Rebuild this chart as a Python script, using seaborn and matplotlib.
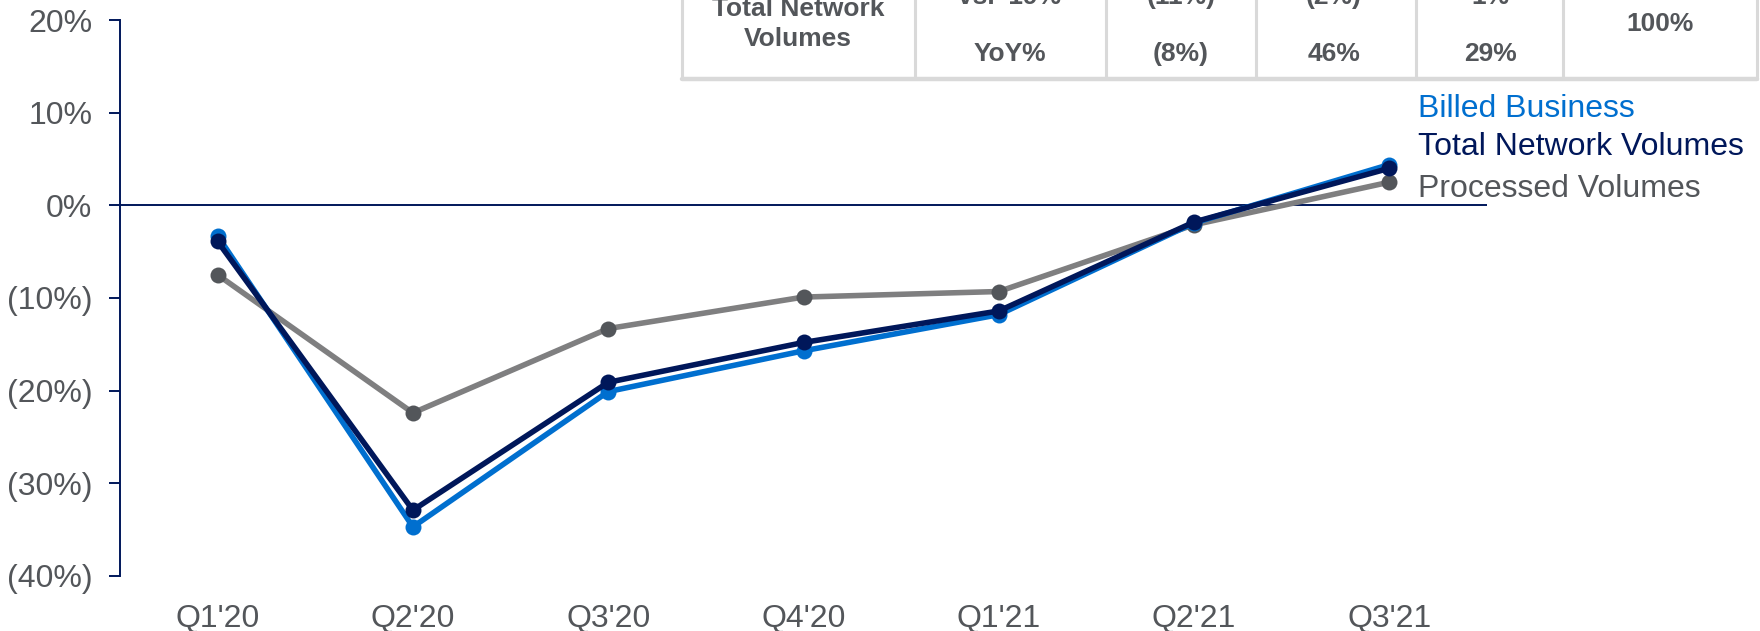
import matplotlib
matplotlib.use("Agg")
import matplotlib.pyplot as plt
from matplotlib.lines import Line2D
import seaborn as sns
import pandas as pd

# data
quarters = ["Q1'20", "Q2'20", "Q3'20", "Q4'20", "Q1'21", "Q2'21", "Q3'21"]
billed_business = [-3.3, -34.7, -20.1, -15.7, -11.8, -1.9, 4.4]
total_network = [-3.9, -32.9, -19.1, -14.8, -11.4, -1.8, 4.0]
processed_volumes = [-7.5, -22.4, -13.3, -9.9, -9.3, -2.1, 2.5]
y_ticks = [-40, -30, -20, -10, 0, 10, 20]
y_labels = ["(40%)", "(30%)", "(20%)", "(10%)", "0%", "10%", "20%"]

table_title = "Total Network\nVolumes"
table_row_labels = ["vs. '19%", "YoY%"]
table_vs19 = ["(11%)", "(2%)", "1%"]
table_yoy = ["(8%)", "46%", "29%"]
table_share = "100%"

BLUE = "#006FCF"
NAVY = "#00175A"
GRAY_LINE = "#7F7F80"
GRAY_DARK = "#53565A"

df = pd.DataFrame({"quarter": quarters, "billed": billed_business,
                   "network": total_network, "processed": processed_volumes})

sns.set_style("white")
plt.rcParams["font.family"] = ["Liberation Sans", "DejaVu Sans"]

W, H = 1760, 631
fig = plt.figure(figsize=(W / 100, H / 100), dpi=100)
ax = fig.add_axes([120 / W, 1 - 576 / H, (1487 - 120) / W, (576 - 20) / H])

# draw order: gray under blue under navy
series = [("processed", GRAY_LINE, GRAY_DARK),
          ("billed", BLUE, BLUE),
          ("network", NAVY, NAVY)]
for col, lc, mc in series:
    sns.lineplot(data=df, x="quarter", y=col, ax=ax, color=lc, linewidth=4.0,
                 marker="o", markersize=11.5, markerfacecolor=mc,
                 markeredgecolor=mc, markeredgewidth=0, sort=False)

ax.axhline(0, color=NAVY, linewidth=1.4, zorder=1)
ax.set_xlim(-0.5, 6.5)
ax.set_ylim(-40, 20)
ax.set_yticks(y_ticks)
ax.set_yticklabels(y_labels)
ax.set_xlabel("")
ax.set_ylabel("")

for s in ["top", "right", "bottom"]:
    ax.spines[s].set_visible(False)
ax.spines["left"].set_color(NAVY)
ax.spines["left"].set_linewidth(1.4)
ax.tick_params(axis="y", which="both", left=True, length=8, width=1.4,
               color=NAVY, labelsize=23, labelcolor=GRAY_DARK, pad=12)
ax.tick_params(axis="x", bottom=False, labelsize=23, labelcolor=GRAY_DARK, pad=17)

# series labels
labels = [("Billed Business", BLUE, 109), ("Total Network Volumes", NAVY, 147),
          ("Processed Volumes", GRAY_DARK, 189)]
for txt, c, py in labels:
    fig.text(1418 / W, 1 - py / H, txt, color=c, fontsize=23, va="center", ha="left")

# table (top of it is cut off in the original)
def fx(px):
    return px / W

def fy(py):
    return 1 - py / H

border = "#D9D9D9"
col_edges = [682, 915, 1106, 1256, 1416, 1563, 1757]
for xe in col_edges:
    fig.add_artist(Line2D([fx(xe), fx(xe)], [fy(-60), fy(79)], color=border, lw=2.2))
fig.add_artist(Line2D([fx(682), fx(1757)], [fy(79), fy(79)], color=border, lw=3.2))

tk = dict(color=GRAY_DARK, fontsize=19, fontweight="bold", ha="center", va="center")
fig.text(fx(798), fy(24), table_title, linespacing=1.3, **tk)
fig.text(fx(1010), fy(-3), table_row_labels[0], **tk)
fig.text(fx(1010), fy(54), table_row_labels[1], **tk)
centers = [1181, 1334, 1490]
for cx, a, b in zip(centers, table_vs19, table_yoy):
    fig.text(fx(cx), fy(-3), a, **tk)
    fig.text(fx(cx), fy(54), b, **tk)
fig.text(fx(1660), fy(24), table_share, **tk)

fig.savefig("out.png", dpi=100)
